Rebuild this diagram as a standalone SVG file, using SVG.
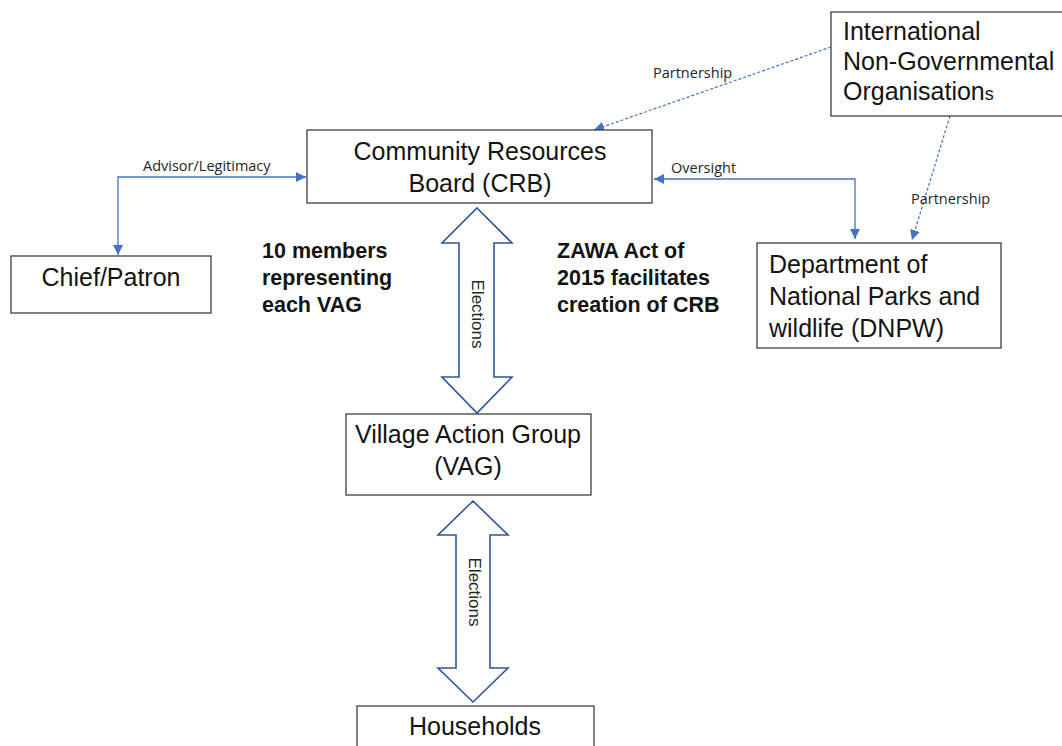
<svg xmlns="http://www.w3.org/2000/svg" width="1062" height="746" viewBox="0 0 1062 746">
<style>
.box{fill:#ffffff;stroke:#3f3f3f;stroke-width:1.3}
.t{font-family:"Liberation Sans",Arial,sans-serif;font-size:25px;fill:#141414}
.b{font-family:"Liberation Sans",Arial,sans-serif;font-size:21.5px;font-weight:bold;fill:#141414}
.lbl{font-family:"Open Sans","Liberation Sans",sans-serif;font-size:14.5px;fill:#262626}
.ln{fill:none;stroke:#4472C4;stroke-width:1.3}
.dash{fill:none;stroke:#4472C4;stroke-width:1.2;stroke-dasharray:3 2}
.blk{fill:#ffffff;stroke:#2F5597;stroke-width:1.6;stroke-linejoin:miter}
.el{font-family:"Liberation Sans",Arial,sans-serif;font-size:17px;fill:#262626}
</style>
<defs>
<marker id="ah" viewBox="0 0 10 10" refX="10" refY="5" markerWidth="10" markerHeight="10" markerUnits="userSpaceOnUse" orient="auto-start-reverse">
<path d="M0,0 L10,5 L0,10 Z" fill="#4472C4"/>
</marker>
</defs>
<rect width="1062" height="746" fill="#ffffff"/>

<g id="connectors">
<path class="ln" d="M118,255 L118,177 L306,177" marker-start="url(#ah)" marker-end="url(#ah)"/>
<path class="ln" d="M855,239 L855,179 L654,179" marker-start="url(#ah)" marker-end="url(#ah)"/>
<path class="dash" d="M831,47 L594,130" marker-end="url(#ah)"/>
<path class="dash" d="M950,116 L912,240" marker-end="url(#ah)"/>
<path class="blk" d="M477,208 L512,243 L494,243 L494,377 L512,377 L477,413 L442,377 L459,377 L459,243 L442,243 Z"/>
<path class="blk" d="M473,501 L508,535 L490,535 L490,668 L508,668 L473,702 L438,668 L456,668 L456,535 L438,535 Z"/>
<text class="lbl" x="143" y="171">Advisor/Legitimacy</text>
<text class="lbl" x="671" y="173">Oversight</text>
<text class="lbl" x="653" y="78">Partnership</text>
<text class="lbl" x="911" y="204">Partnership</text>
<text class="el" text-anchor="middle" dominant-baseline="central" transform="translate(477,314) rotate(90)">Elections</text>
<text class="el" text-anchor="middle" dominant-baseline="central" transform="translate(474,592) rotate(90)">Elections</text>
</g>

<g id="ingo">
<rect class="box" x="831" y="12" width="240" height="104"/>
<text class="t" x="843" y="40">International</text>
<text class="t" x="843" y="70">Non-Governmental</text>
<text class="t" x="843" y="100">Organisation<tspan font-size="18">s</tspan></text>
</g>

<g id="crb">
<rect class="box" x="307" y="130" width="345" height="73"/>
<text class="t" x="480" y="160" text-anchor="middle">Community Resources</text>
<text class="t" x="480" y="192" text-anchor="middle">Board (CRB)</text>
</g>

<g id="chief">
<rect class="box" x="11" y="256" width="200" height="57"/>
<text class="t" x="111" y="286" text-anchor="middle">Chief/Patron</text>
</g>

<g id="dnpw">
<rect class="box" x="757" y="243" width="244" height="105"/>
<text class="t" x="769" y="273">Department of</text>
<text class="t" x="769" y="305">National Parks and</text>
<text class="t" x="769" y="337">wildlife (DNPW)</text>
</g>

<g id="note-members">
<text class="b" x="262" y="258">10 members</text>
<text class="b" x="262" y="285">representing</text>
<text class="b" x="262" y="312">each VAG</text>
</g>

<g id="note-zawa">
<text class="b" x="557" y="258">ZAWA Act of</text>
<text class="b" x="557" y="285">2015 facilitates</text>
<text class="b" x="557" y="312">creation of CRB</text>
</g>

<g id="vag">
<rect class="box" x="346" y="414" width="245" height="81"/>
<text class="t" x="468" y="443" text-anchor="middle">Village Action Group</text>
<text class="t" x="468" y="475" text-anchor="middle">(VAG)</text>
</g>

<g id="households">
<rect class="box" x="357" y="706" width="237" height="60"/>
<text class="t" x="475" y="735" text-anchor="middle">Households</text>
</g>
</svg>
